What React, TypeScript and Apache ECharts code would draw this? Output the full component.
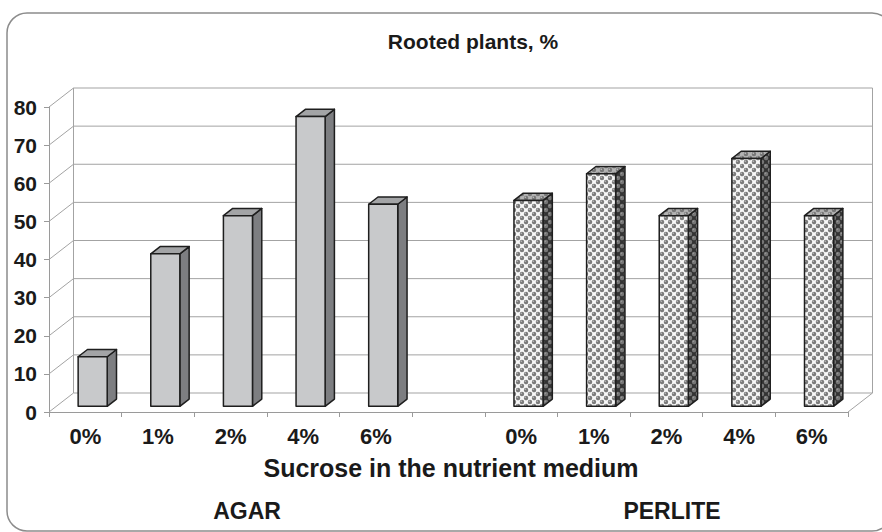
import React, { useEffect, useRef } from "react";
import * as echarts from "echarts";

const categories = ["0%", "1%", "2%", "4%", "6%", "", "0%", "1%", "2%", "4%", "6%"];
const agarValues = [13, 40, 50, 76, 53];
const perliteValues = [54, 61, 50, 65, 50];
const perliteStart = 6;
const yTicks = [0, 10, 20, 30, 40, 50, 60, 70, 80];

const FONT = '"Liberation Sans", Arial, sans-serif';
const DEPTH = [24.5, -19];
const F0 = 0.3;
const F1 = 0.68;
const BAR_W = 0.4;

function makeTile(bg: string, ball: string, hi: string) {
  const c = document.createElement("canvas");
  c.width = 8;
  c.height = 8;
  const g = c.getContext("2d")!;
  g.fillStyle = bg;
  g.fillRect(0, 0, 8, 8);
  const balls = [[2, 2], [6, 6], [-2, 6], [6, -2], [10, 6], [6, 10], [-2, -2], [10, 10], [2, 10], [10, 2], [-2, 10], [10, -2]];
  for (const [x, y] of balls) {
    g.fillStyle = ball;
    g.beginPath();
    g.arc(x, y, 2.2, 0, Math.PI * 2);
    g.fill();
    g.fillStyle = hi;
    g.beginPath();
    g.arc(x - 0.7, y - 0.7, 0.8, 0, Math.PI * 2);
    g.fill();
  }
  return { image: c.toDataURL(), imageWidth: 8, imageHeight: 8, repeat: "repeat" };
}

export default function App() {
  const ref = useRef<HTMLDivElement>(null);
  useEffect(() => {
    if (!ref.current) return;
    const chart = echarts.init(ref.current, null, { renderer: "svg" });

    const pFront = makeTile("#f8f8f8", "#7c7c7c", "#bdbdbd");
    const pSide = makeTile("#333333", "#767676", "#9a9a9a");
    const pTop = makeTile("#b4b4b4", "#787878", "#c4c4c4");

    const grid = "#a3a3a3";

    const wallRender = (params: any, api: any) => {
      const v = api.value(1);
      const band = api.size([1, 0])[0];
      const pl = api.coord([0, v]);
      const pr = api.coord([categories.length - 1, v]);
      const p0 = api.coord([0, 0]);
      const xl = pl[0] - band / 2;
      const xr = pr[0] + band / 2;
      const y = pl[1];
      const [dx, dy] = DEPTH;
      const ls = { stroke: grid, lineWidth: 1 };
      const children: any[] = [
        { type: "line", shape: { x1: xl + dx, y1: y + dy, x2: xr + dx, y2: y + dy }, style: ls },
        { type: "line", shape: { x1: xl, y1: y, x2: xl + dx, y2: y + dy }, style: ls },
      ];
      if (v === 0) {
        children.push({ type: "line", shape: { x1: xr, y1: y, x2: xr + dx, y2: y + dy }, style: ls });
      }
      if (v === yTicks[yTicks.length - 1]) {
        children.push({ type: "line", shape: { x1: xl + dx, y1: y + dy, x2: xl + dx, y2: p0[1] + dy }, style: ls });
        children.push({ type: "line", shape: { x1: xr + dx, y1: y + dy, x2: xr + dx, y2: p0[1] + dy }, style: ls });
      }
      return { type: "group", children };
    };

    const makeBarRender = (front: any, side: any, top: any) => (params: any, api: any) => {
      const idx = api.value(0);
      const v = api.value(1);
      const band = api.size([1, 0])[0];
      const pb = api.coord([idx, 0]);
      const pt = api.coord([idx, v]);
      const w = band * BAR_W;
      const [dx, dy] = DEPTH;
      const xL = pb[0] - w / 2 + F0 * dx;
      const xR = pb[0] + w / 2 + F0 * dx;
      const yB = pb[1] + F0 * dy;
      const yT = pt[1] + F0 * dy;
      const ddx = (F1 - F0) * dx;
      const ddy = (F1 - F0) * dy;
      const outline = { stroke: "#1e1e1e", lineWidth: 1.5, lineJoin: "round" };
      return {
        type: "group",
        children: [
          { type: "polygon", shape: { points: [[xR, yT], [xR + ddx, yT + ddy], [xR + ddx, yB + ddy], [xR, yB]] }, style: { fill: side, ...outline } },
          { type: "polygon", shape: { points: [[xL, yT], [xR, yT], [xR + ddx, yT + ddy], [xL + ddx, yT + ddy]] }, style: { fill: top, ...outline } },
          { type: "rect", shape: { x: xL, y: yT, width: xR - xL, height: yB - yT }, style: { fill: front, ...outline } },
        ],
      };
    };

    chart.setOption({
      animation: false,
      backgroundColor: "#ffffff",
      title: {
        text: "Rooted plants, %",
        left: 468,
        top: 26,
        textAlign: "center",
        textStyle: { fontFamily: FONT, fontSize: 21, fontWeight: "bold", color: "#1a1a1a" },
      },
      grid: { left: 49, top: 107, width: 799, height: 305, containLabel: false },
      xAxis: {
        type: "category",
        data: categories,
        axisLine: { show: true, lineStyle: { color: "#9a9a9a", width: 1 } },
        axisTick: { show: true, length: 5, interval: 0, lineStyle: { color: "#9a9a9a" } },
        axisLabel: { interval: 0, margin: 13, fontFamily: FONT, fontSize: 22, fontWeight: "bold", color: "#1a1a1a" },
        splitLine: { show: false },
      },
      yAxis: {
        type: "value",
        min: 0,
        max: 80,
        interval: 10,
        axisLine: { show: true, lineStyle: { color: "#9a9a9a", width: 1 } },
        axisTick: { show: true, length: 5, lineStyle: { color: "#9a9a9a" } },
        axisLabel: { margin: 12, fontFamily: FONT, fontSize: 21, fontWeight: "bold", color: "#1a1a1a" },
        splitLine: { show: false },
      },
      graphic: [
        {
          type: "rect",
          shape: { x: 7, y: 13, width: 885, height: 518, r: 20 },
          style: { fill: "none", stroke: "#8c8c8c", lineWidth: 1.5 },
          z: -10,
        },
        {
          type: "text",
          x: 451,
          y: 468,
          style: { text: "Sucrose in the nutrient medium", fontFamily: FONT, fontSize: 25, fontWeight: "bold", fill: "#1a1a1a", align: "center", verticalAlign: "middle" },
        },
        {
          type: "text",
          x: 247,
          y: 511,
          style: { text: "AGAR", fontFamily: FONT, fontSize: 23, fontWeight: "bold", fill: "#1a1a1a", align: "center", verticalAlign: "middle" },
        },
        {
          type: "text",
          x: 672,
          y: 511,
          style: { text: "PERLITE", fontFamily: FONT, fontSize: 23, fontWeight: "bold", fill: "#1a1a1a", align: "center", verticalAlign: "middle" },
        },
      ],
      series: [
        {
          type: "custom",
          name: "walls",
          clip: false,
          z: 1,
          renderItem: wallRender,
          data: yTicks.map((v) => [0, v]),
          encode: { x: 0, y: 1 },
          silent: true,
        },
        {
          type: "custom",
          name: "AGAR",
          clip: false,
          z: 3,
          renderItem: makeBarRender("#c8c9cb", "#7d7e81", "#a3a4a6"),
          data: agarValues.map((v, i) => [i, v]),
          encode: { x: 0, y: 1 },
        },
        {
          type: "custom",
          name: "PERLITE",
          clip: false,
          z: 3,
          renderItem: makeBarRender(pFront, pSide, pTop),
          data: perliteValues.map((v, i) => [i + perliteStart, v]),
          encode: { x: 0, y: 1 },
        },
      ],
    });
    return () => chart.dispose();
  }, []);
  return <div ref={ref} style={{ position: "fixed", left: 0, top: 0, width: 882, height: 532 }} />;
}
